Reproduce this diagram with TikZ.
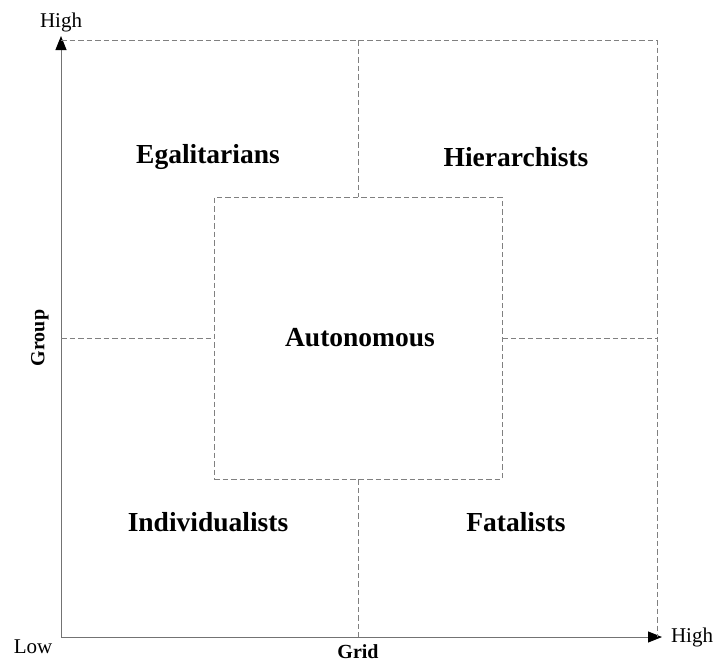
\documentclass[tikz,border=0pt]{standalone}
\usepackage{fontspec}
\setmainfont{Liberation Serif}
\usetikzlibrary{arrows.meta}
\begin{document}
\begin{tikzpicture}[x=1pt,y=-1pt,
  axis/.style={draw=black!55, line width=1pt, -{Triangle[length=14pt,width=11pt,color=black]}},
  divider/.style={draw=black!50, line width=0.9pt, dash pattern=on 5.5pt off 3pt},
  zone/.style={font=\fontsize{27.5}{30}\selectfont\bfseries},
  tick/.style={font=\fontsize{21}{24}\selectfont},
  axname/.style={font=\fontsize{20}{23}\selectfont\bfseries}]
\useasboundingbox (0,0) rectangle (718,665);
% axes
\coordinate (O) at (61,637);
\coordinate (ytop) at (61,36);
\coordinate (xend) at (662,637);
\draw[axis] (O) -- (ytop);
\draw[axis] (O) -- (xend);
% outer frame and dividers
\coordinate (tl) at (61,40);
\coordinate (tr) at (657,40);
\coordinate (br) at (657,637);
\coordinate (tm) at (358,40);
\coordinate (bm) at (358,637);
\coordinate (ml) at (61,338);
\coordinate (mr) at (657,338);
\draw[divider] (tl) -- (tr) -- (br);
\node[draw=black!50, line width=0.9pt, dash pattern=on 5.5pt off 3pt, minimum width=288pt, minimum height=282pt, inner sep=0pt] (inner) at (358,338) {};
\draw[divider] (tm) -- (inner.north);
\draw[divider] (inner.south) -- (bm);
\draw[divider] (ml) -- (inner.west);
\draw[divider] (inner.east) -- (mr);
% zone labels
\node[zone] (egal) at (208,157) {Egalitarians};
\node[zone] (hier) at (516,157) {Hierarchists};
\node[zone] (auto) at (360,338) {Autonomous};
\node[zone] (indi) at (208,522) {Individualists};
\node[zone] (fata) at (516,522) {Fatalists};
% axis labels
\node[tick] (hy) at (61,22) {High};
\node[tick] (hx) at (692,637) {High};
\node[tick] (lo) at (33,647) {Low};
\node[axname] (grid) at (358,652) {Grid};
\node[axname, rotate=90] (group) at (40,338) {Group};
\end{tikzpicture}
\end{document}
